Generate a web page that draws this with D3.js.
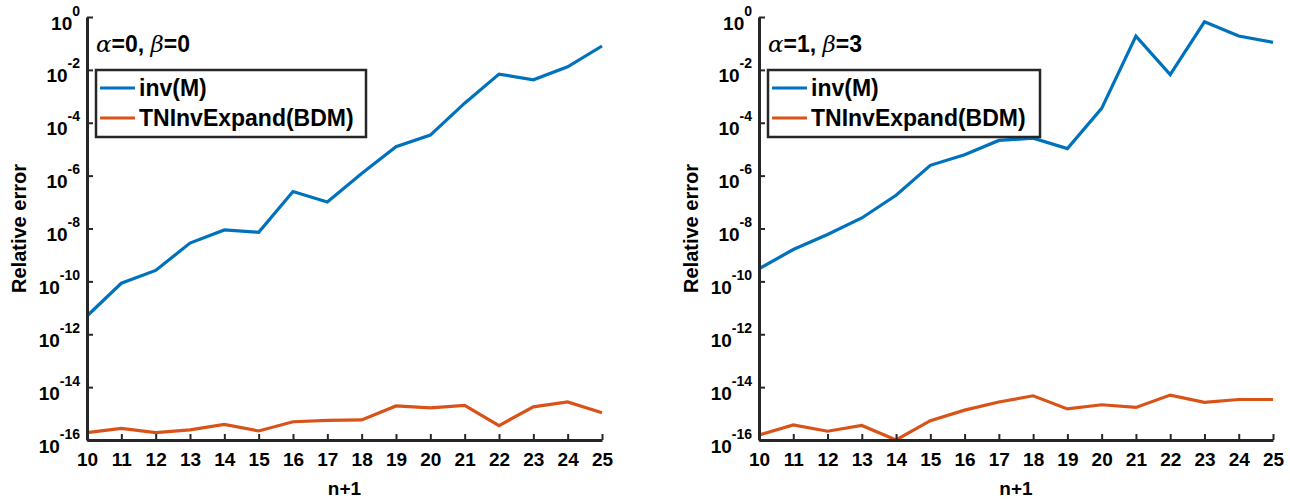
<!DOCTYPE html>
<html>
<head>
<meta charset="utf-8">
<script src="https://cdn.jsdelivr.net/npm/d3@7"></script>
<style>
  html, body { margin: 0; padding: 0; background: #fff; }
  svg { display: block; }
  text { font-family: "Liberation Sans", Arial, Helvetica, sans-serif; font-weight: bold; fill: #000; }
</style>
</head>
<body>
<svg id="chart" width="1290" height="500"></svg>
<script>
// ---- data ----
const nPlus1 = [10, 11, 12, 13, 14, 15, 16, 17, 18, 19, 20, 21, 22, 23, 24, 25];
const xTickLabels = ["10","11","12","13","14","15","16","17","18","19","20","21","22","23","24","25"];
const yTickExponents = [0, -2, -4, -6, -8, -10, -12, -14, -16];

// panel 1: alpha=0, beta=0
const invM_a0b0 = [4.9e-12, 8.5e-11, 2.6e-10, 2.8e-9, 8.8e-9, 7.2e-9, 2.5e-7, 1.0e-7, 1.2e-6, 1.25e-5, 3.4e-5, 5.5e-4, 6.9e-3, 4.2e-3, 1.3e-2, 8.0e-2];
const tnInv_a0b0 = [1.9e-16, 2.75e-16, 1.9e-16, 2.4e-16, 3.9e-16, 2.2e-16, 4.9e-16, 5.5e-16, 5.75e-16, 1.95e-15, 1.65e-15, 2.05e-15, 3.5e-16, 1.8e-15, 2.75e-15, 1.07e-15];

// panel 2: alpha=1, beta=3
const invM_a1b3 = [3.0e-10, 1.6e-9, 5.9e-9, 2.5e-8, 1.8e-7, 2.45e-6, 6.2e-6, 2.15e-5, 2.6e-5, 1.05e-5, 3.5e-4, 1.9e-1, 6.6e-3, 6.6e-1, 1.9e-1, 1.1e-1];
const tnInv_a1b3 = [1.55e-16, 3.7e-16, 2.15e-16, 3.55e-16, 1.0e-16, 5.4e-16, 1.35e-15, 2.75e-15, 4.7e-15, 1.5e-15, 2.15e-15, 1.7e-15, 5.0e-15, 2.65e-15, 3.4e-15, 3.4e-15];

const seriesNames = ["inv(M)", "TNInvExpand(BDM)"];
const seriesColors = ["#0072BD", "#D95319"];
const panelTitles = [["0", "0"], ["1", "3"]];
const xLabel = "n+1";
const yLabel = "Relative error";

// ---- layout ----
const svg = d3.select("#chart");
const axisColor = "#262626";
const panels = [
  { left: 87,  right: 602,  series: [invM_a0b0, tnInv_a0b0], title: panelTitles[0] },
  { left: 759, right: 1273, series: [invM_a1b3, tnInv_a1b3], title: panelTitles[1] }
];
const plotTop = 17, plotBottom = 440;

panels.forEach(p => {
  const g = svg.append("g");
  const x = d3.scaleLinear().domain([10, 25]).range([p.left, p.right]);
  const y = d3.scaleLog().domain([1e-16, 1]).range([plotBottom, plotTop]);

  // lines
  const line = d3.line().x((d, i) => x(nPlus1[i])).y(d => y(d));
  p.series.forEach((s, k) => {
    g.append("path")
      .datum(s)
      .attr("fill", "none")
      .attr("stroke", seriesColors[k])
      .attr("stroke-width", 3.2)
      .attr("stroke-linejoin", "miter")
      .attr("d", line);
  });

  // x axis
  const xAxis = d3.axisBottom(x)
    .tickValues(nPlus1)
    .tickFormat((d, i) => xTickLabels[i])
    .tickSizeInner(-6)
    .tickSizeOuter(0)
    .tickPadding(13);
  const gx = g.append("g").attr("transform", `translate(0,${plotBottom})`).call(xAxis);
  gx.select(".domain").attr("stroke", axisColor).attr("stroke-width", 3);
  gx.selectAll(".tick line").attr("stroke", axisColor).attr("stroke-width", 2);
  gx.selectAll(".tick text").attr("font-size", 19).attr("fill", "#000")
    .attr("font-family", "Liberation Sans, Arial, sans-serif").attr("font-weight", "bold");

  // y axis
  const yAxis = d3.axisLeft(y)
    .tickValues(yTickExponents.map(e => Math.pow(10, e)))
    .tickSizeInner(-6)
    .tickSizeOuter(0)
    .tickPadding(6);
  const gy = g.append("g").attr("transform", `translate(${p.left},0)`).call(yAxis);
  gy.select(".domain").attr("stroke", axisColor).attr("stroke-width", 3);
  gy.selectAll(".tick line").attr("stroke", axisColor).attr("stroke-width", 2);
  gy.selectAll(".tick text").each(function(d, i) {
    const t = d3.select(this);
    t.text(null).attr("dy", null).attr("x", -7).attr("y", 12)
      .attr("font-family", "Liberation Sans, Arial, sans-serif").attr("font-weight", "bold")
      .attr("fill", "#000").attr("font-size", 19);
    t.append("tspan").text("10");
    t.append("tspan").attr("dy", -14).attr("font-size", 14).text(String(yTickExponents[i]));
  });

  // title
  const tt = g.append("text").attr("x", p.left + 9).attr("y", 52).attr("font-size", 23);
  tt.append("tspan").attr("font-family", "DejaVu Serif, serif").attr("font-style", "italic").attr("font-weight", "normal").text("α");
  tt.append("tspan").text("=" + p.title[0] + ", ");
  tt.append("tspan").attr("font-family", "DejaVu Serif, serif").attr("font-style", "italic").attr("font-weight", "normal").text("β");
  tt.append("tspan").text("=" + p.title[1]);

  // legend
  const lx = p.left + 9, ly = 70, lw = p.right === 602 ? 270 : 272, lh = 67;
  g.append("rect").attr("x", lx).attr("y", ly).attr("width", lw).attr("height", lh)
    .attr("fill", "#fff").attr("stroke", axisColor).attr("stroke-width", 2.5);
  seriesNames.forEach((name, k) => {
    const cy = ly + 18 + k * 30;
    g.append("line").attr("x1", lx + 4).attr("x2", lx + 39).attr("y1", cy).attr("y2", cy)
      .attr("stroke", seriesColors[k]).attr("stroke-width", 3.2);
    g.append("text").attr("x", lx + 43).attr("y", cy + 8).attr("font-size", 23).text(name);
  });

  // axis labels
  g.append("text").attr("x", (p.left + p.right) / 2).attr("y", 495)
    .attr("text-anchor", "middle").attr("font-size", 19).text(xLabel);
  g.append("text")
    .attr("transform", `translate(${p.left - 61},${(plotTop + plotBottom) / 2}) rotate(-90)`)
    .attr("text-anchor", "middle").attr("font-size", 20).text(yLabel);
});
</script>
</body>
</html>
